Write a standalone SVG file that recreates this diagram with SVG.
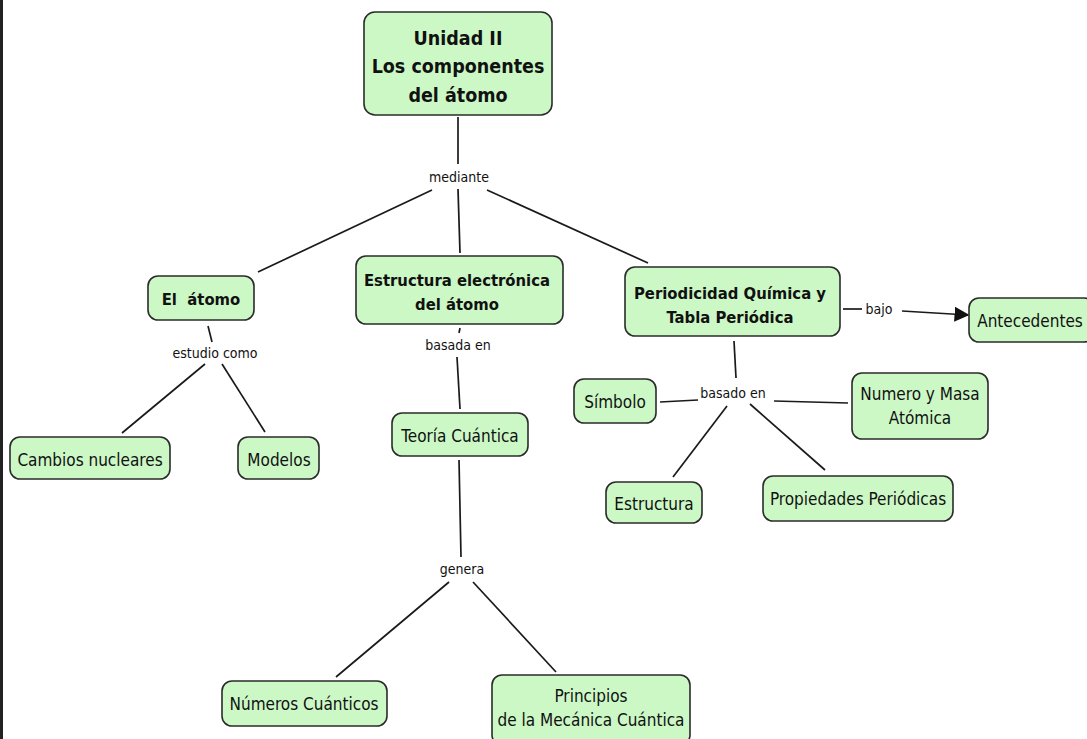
<svg xmlns="http://www.w3.org/2000/svg" width="1087" height="739" viewBox="0 0 1087 739">
<style>
.n{fill:#ccf8c6;stroke:#2b2b2b;stroke-width:1.6}
text{font-family:"DejaVu Sans Condensed","DejaVu Sans","Liberation Sans",sans-serif;fill:#111;text-anchor:middle;dominant-baseline:central}
.b{font-weight:bold;font-size:16.5px}
.t{font-size:17px}
.h{font-weight:bold;font-size:19.5px}
.l{font-size:14px}
.c line{stroke:#1a1a1a;stroke-width:1.7}
</style>
<defs>
<marker id="ah" viewBox="0 0 10 10" refX="9" refY="5" markerWidth="15" markerHeight="15" markerUnits="userSpaceOnUse" orient="auto"><path d="M0,0 L10,5 L0,10 z" fill="#111"/></marker>
</defs>
<rect width="1087" height="739" fill="#fff"/>
<rect x="0" y="0" width="3" height="739" fill="#222"/>
<g class="c">
<line x1="458" y1="117" x2="458" y2="164"/>
<line x1="432" y1="190" x2="258" y2="272"/>
<line x1="458" y1="189" x2="460" y2="253"/>
<line x1="487" y1="190" x2="648" y2="263"/>
<line x1="208" y1="326" x2="212" y2="342"/>
<line x1="205" y1="364" x2="122" y2="433"/>
<line x1="222" y1="364" x2="265" y2="432"/>
<line x1="460" y1="328" x2="459" y2="333"/>
<line x1="457" y1="357" x2="460" y2="409"/>
<line x1="459" y1="460" x2="461" y2="557"/>
<line x1="449" y1="582" x2="336" y2="677"/>
<line x1="473" y1="582" x2="556" y2="672"/>
<line x1="734" y1="341" x2="736" y2="378"/>
<line x1="660" y1="402" x2="698" y2="400"/>
<line x1="774" y1="401" x2="848" y2="403"/>
<line x1="727" y1="406" x2="673" y2="477"/>
<line x1="750" y1="404" x2="825" y2="470"/>
<line x1="843" y1="309" x2="862" y2="309"/>
<line x1="902" y1="311" x2="968" y2="315" marker-end="url(#ah)"/>
<text class="l" x="459" y="177">mediante</text>
<text class="l" x="215" y="353">estudio como</text>
<text class="l" x="458" y="345">basada en</text>
<text class="l" x="462" y="569">genera</text>
<text class="l" x="733" y="393">basado en</text>
<text class="l" x="879" y="309">bajo</text>
</g>
<g id="unidad"><rect class="n" x="364" y="12" width="188" height="103" rx="11"/><text class="h" x="458" y="38">Unidad II</text><text class="h" x="458" y="66">Los componentes</text><text class="h" x="458" y="95">del átomo</text></g>
<g id="el-atomo"><rect class="n" x="148" y="276" width="106" height="44" rx="10"/><text class="b" x="201" y="299" xml:space="preserve">El  átomo</text></g>
<g id="estructura-electronica"><rect class="n" x="356" y="256" width="207" height="68" rx="10"/><text class="b" x="457" y="280">Estructura electrónica</text><text class="b" x="457" y="304">del átomo</text></g>
<g id="periodicidad"><rect class="n" x="625" y="267" width="215" height="69" rx="10"/><text class="b" x="730" y="293">Periodicidad Química y</text><text class="b" x="730" y="317">Tabla Periódica</text></g>
<g id="antecedentes"><rect class="n" x="969" y="298" width="125" height="44" rx="10"/><text class="t" x="1030" y="321">Antecedentes</text></g>
<g id="simbolo"><rect class="n" x="574" y="379" width="82" height="44" rx="10"/><text class="t" x="615" y="402">Símbolo</text></g>
<g id="numero-masa"><rect class="n" x="852" y="373" width="136" height="66" rx="10"/><text class="t" x="920" y="394">Numero y Masa</text><text class="t" x="920" y="418">Atómica</text></g>
<g id="estructura"><rect class="n" x="606" y="482" width="96" height="41" rx="10"/><text class="t" x="654" y="504">Estructura</text></g>
<g id="propiedades"><rect class="n" x="763" y="476" width="190" height="45" rx="10"/><text class="t" x="858" y="499">Propiedades Periódicas</text></g>
<g id="cambios"><rect class="n" x="10" y="437" width="160" height="42" rx="10"/><text class="t" x="90" y="460">Cambios nucleares</text></g>
<g id="modelos"><rect class="n" x="238" y="437" width="81" height="42" rx="10"/><text class="t" x="279" y="460">Modelos</text></g>
<g id="teoria"><rect class="n" x="392" y="413" width="136" height="43" rx="10"/><text class="t" x="460" y="436">Teoría Cuántica</text></g>
<g id="numeros"><rect class="n" x="222" y="681" width="165" height="45" rx="10"/><text class="t" x="304" y="704">Números Cuánticos</text></g>
<g id="principios"><rect class="n" x="492" y="675" width="198" height="70" rx="10"/><text class="t" x="591" y="696">Principios</text><text class="t" x="591" y="720">de la Mecánica Cuántica</text></g>
</svg>
